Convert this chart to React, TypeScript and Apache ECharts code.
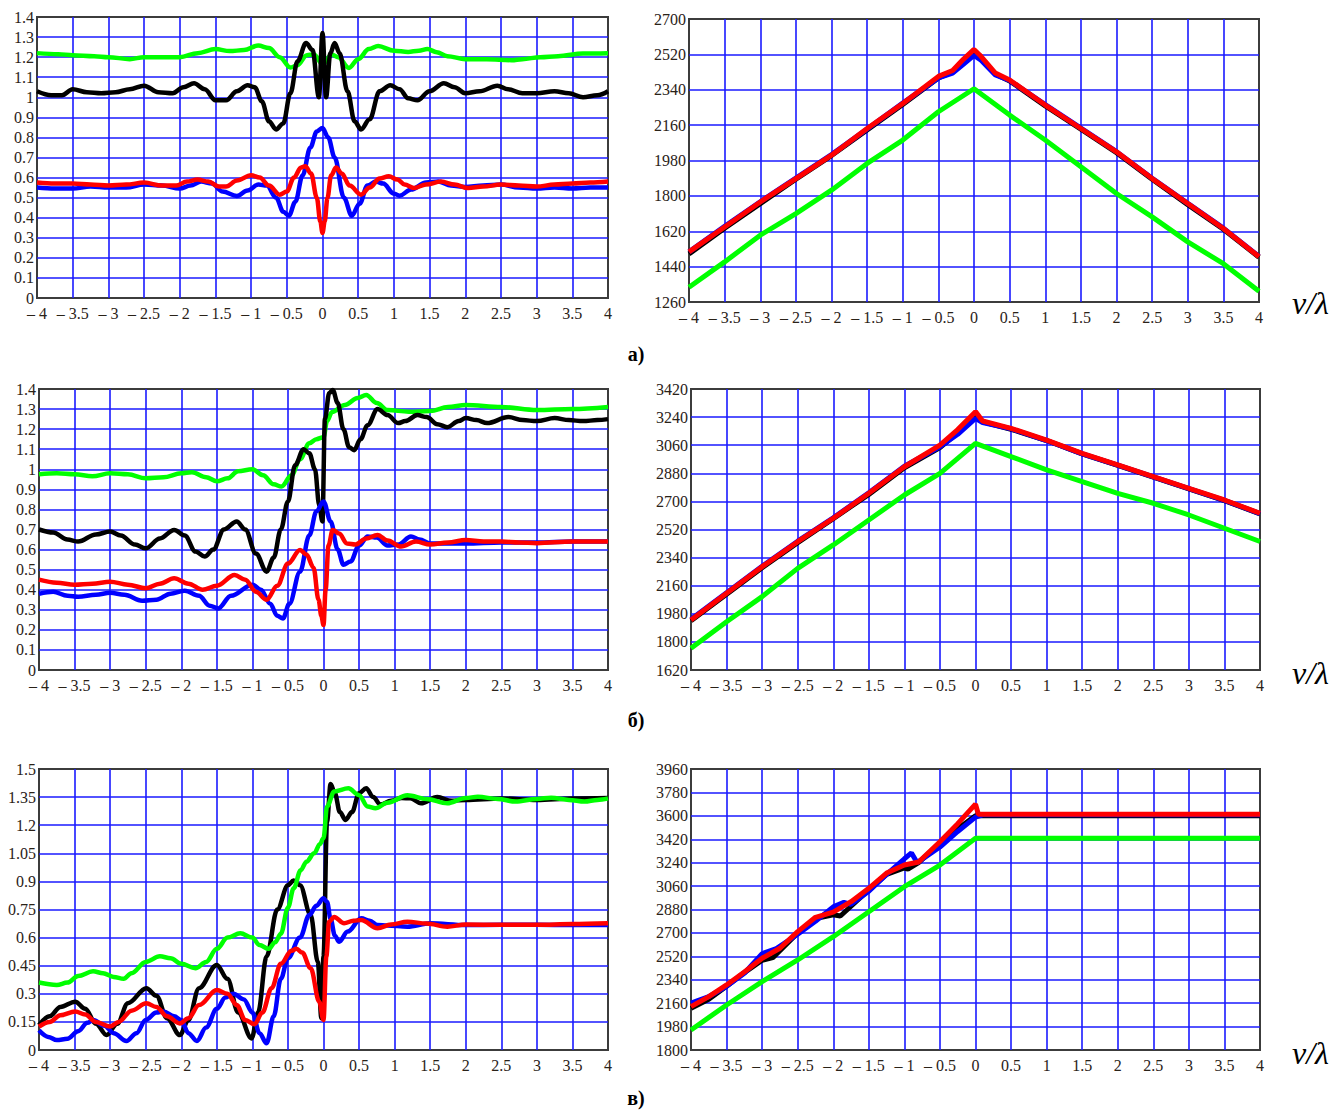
import React, { useEffect, useRef } from 'react';
import * as echarts from 'echarts';

type P = [number, number][];

// ---------- panel а) left ----------
const aLeftGreen: P = [[-4,1.22],[-3.7,1.215],[-3.5,1.21],[-3.2,1.205],[-3,1.2],[-2.7,1.19],[-2.5,1.2],[-2.2,1.2],[-2,1.2],[-1.75,1.22],[-1.5,1.24],[-1.3,1.23],[-1.1,1.235],[-0.9,1.258],[-0.75,1.245],[-0.6,1.2],[-0.45,1.148],[-0.35,1.16],[-0.22,1.21],[-0.12,1.213],[0,1.165],[0.13,1.213],[0.22,1.2],[0.37,1.146],[0.5,1.19],[0.65,1.24],[0.78,1.255],[1.0,1.232],[1.2,1.226],[1.35,1.232],[1.47,1.24],[1.6,1.225],[1.75,1.205],[2,1.19],[2.3,1.19],[2.65,1.185],[2.8,1.19],[3.05,1.2],[3.3,1.205],[3.65,1.218],[4,1.22]];
const aLeftBlack: P = [[-4,1.03],[-3.8,1.01],[-3.65,1.01],[-3.5,1.04],[-3.3,1.025],[-3.1,1.02],[-2.9,1.025],[-2.7,1.04],[-2.5,1.058],[-2.3,1.025],[-2.1,1.02],[-1.95,1.05],[-1.8,1.07],[-1.65,1.04],[-1.5,0.985],[-1.35,0.985],[-1.2,1.03],[-1.05,1.06],[-0.95,1.05],[-0.85,0.98],[-0.75,0.88],[-0.65,0.84],[-0.55,0.87],[-0.45,1.02],[-0.35,1.18],[-0.23,1.27],[-0.14,1.235],[-0.05,1.0],[0,1.32],[0.05,1.0],[0.11,1.22],[0.17,1.27],[0.24,1.22],[0.35,1.03],[0.45,0.88],[0.54,0.84],[0.66,0.89],[0.8,1.03],[0.95,1.06],[1.08,1.04],[1.2,0.995],[1.33,0.985],[1.5,1.03],[1.7,1.07],[1.85,1.05],[2,1.02],[2.2,1.03],[2.45,1.058],[2.6,1.04],[2.8,1.02],[3,1.02],[3.25,1.03],[3.45,1.02],[3.65,1.0],[3.85,1.01],[4,1.03]];
const aLeftBlue: P = [[-4,0.55],[-3.75,0.545],[-3.5,0.545],[-3.25,0.555],[-3,0.55],[-2.75,0.55],[-2.5,0.565],[-2.25,0.56],[-2,0.545],[-1.85,0.56],[-1.7,0.58],[-1.55,0.57],[-1.4,0.53],[-1.2,0.508],[-1.05,0.535],[-0.9,0.565],[-0.78,0.56],[-0.65,0.5],[-0.55,0.43],[-0.47,0.41],[-0.38,0.48],[-0.28,0.61],[-0.17,0.75],[-0.08,0.83],[0,0.847],[0.08,0.8],[0.17,0.7],[0.3,0.5],[0.41,0.41],[0.52,0.47],[0.63,0.56],[0.75,0.58],[0.85,0.57],[1.0,0.52],[1.08,0.51],[1.24,0.54],[1.45,0.575],[1.62,0.58],[1.8,0.56],[2,0.553],[2.25,0.56],[2.5,0.565],[2.75,0.55],[3,0.545],[3.25,0.55],[3.5,0.545],[3.75,0.55],[4,0.55]];
const aLeftRed: P = [[-4,0.575],[-3.75,0.57],[-3.5,0.57],[-3.25,0.565],[-3,0.56],[-2.75,0.565],[-2.5,0.575],[-2.25,0.56],[-2.05,0.56],[-1.9,0.58],[-1.75,0.59],[-1.6,0.58],[-1.45,0.555],[-1.35,0.555],[-1.2,0.585],[-1.0,0.612],[-0.88,0.6],[-0.75,0.56],[-0.6,0.515],[-0.5,0.53],[-0.4,0.6],[-0.3,0.65],[-0.24,0.656],[-0.16,0.62],[-0.08,0.5],[-0.03,0.38],[0,0.324],[0.03,0.38],[0.07,0.5],[0.12,0.61],[0.19,0.65],[0.27,0.62],[0.38,0.56],[0.54,0.515],[0.66,0.55],[0.8,0.595],[0.93,0.606],[1.05,0.59],[1.15,0.565],[1.28,0.548],[1.45,0.565],[1.66,0.58],[1.85,0.565],[2.04,0.548],[2.25,0.555],[2.5,0.565],[2.75,0.56],[3,0.555],[3.25,0.565],[3.5,0.57],[3.75,0.575],[4,0.58]];

// ---------- panel а) right ----------
const aRightBlack: P = [[-4,1505],[-3.5,1635],[-3,1760],[-2.5,1885],[-2,2005],[-1.5,2135],[-1,2265],[-0.5,2400],[-0.3,2430],[-0.15,2480],[0,2520],[0.1,2495],[0.3,2420],[0.5,2385],[1,2258],[1.5,2140],[2,2020],[2.5,1885],[3,1755],[3.5,1630],[4,1488]];
const aRightGreen: P = [[-4,1335],[-3.5,1464],[-3,1600],[-2.5,1710],[-2,1829],[-1.5,1965],[-1,2084],[-0.5,2228],[0,2345],[0.5,2211],[1,2084],[1.5,1948],[2,1812],[2.5,1693],[3,1566],[3.5,1455],[4,1315]];
const aRightBlue: P = [[-4,1515],[-3.5,1645],[-3,1770],[-2.5,1890],[-2,2010],[-1.5,2140],[-1,2272],[-0.5,2400],[-0.3,2425],[-0.15,2470],[0,2515],[0.1,2490],[0.3,2415],[0.5,2387],[1,2265],[1.5,2145],[2,2025],[2.5,1890],[3,1762],[3.5,1636],[4,1492]];
const aRightRed: P = [[-4,1515],[-3.5,1642],[-3,1769],[-2.5,1888],[-2,2007],[-1.5,2143],[-1,2270],[-0.5,2408],[-0.3,2438],[-0.15,2495],[0,2545],[0.08,2517],[0.3,2425],[0.5,2390],[1,2262],[1.5,2143],[2,2024],[2.5,1888],[3,1761],[3.5,1634],[4,1490]];

// ---------- panel б) left ----------
const bLeftGreen: P = [[-4,0.975],[-3.75,0.98],[-3.5,0.975],[-3.25,0.965],[-3,0.98],[-2.75,0.975],[-2.5,0.955],[-2.25,0.96],[-2,0.98],[-1.85,0.985],[-1.65,0.96],[-1.5,0.94],[-1.35,0.955],[-1.2,0.99],[-1.0,1.0],[-0.85,0.97],[-0.7,0.925],[-0.59,0.914],[-0.45,0.97],[-0.33,1.05],[-0.2,1.13],[-0.1,1.15],[0,1.16],[0.05,1.24],[0.12,1.285],[0.3,1.32],[0.48,1.355],[0.6,1.37],[0.75,1.33],[0.9,1.295],[1.2,1.287],[1.5,1.29],[1.75,1.31],[2,1.32],[2.5,1.31],[3,1.295],[3.5,1.3],[4,1.31]];
const bLeftBlack: P = [[-4,0.7],[-3.8,0.685],[-3.6,0.65],[-3.45,0.64],[-3.2,0.675],[-3.0,0.69],[-2.85,0.67],[-2.65,0.625],[-2.5,0.606],[-2.3,0.655],[-2.1,0.698],[-1.95,0.67],[-1.8,0.59],[-1.67,0.565],[-1.55,0.6],[-1.4,0.7],[-1.22,0.74],[-1.1,0.7],[-0.95,0.58],[-0.8,0.49],[-0.7,0.56],[-0.6,0.7],[-0.5,0.84],[-0.4,1.02],[-0.28,1.1],[-0.2,1.08],[-0.12,1.0],[-0.06,0.82],[-0.015,0.74],[0.02,1.25],[0.08,1.38],[0.13,1.395],[0.2,1.33],[0.28,1.2],[0.36,1.11],[0.43,1.095],[0.52,1.15],[0.62,1.22],[0.76,1.3],[0.9,1.27],[1.05,1.23],[1.15,1.24],[1.32,1.27],[1.45,1.26],[1.6,1.225],[1.74,1.21],[1.9,1.24],[2.0,1.255],[2.15,1.245],[2.3,1.23],[2.6,1.26],[2.8,1.245],[3.0,1.24],[3.25,1.255],[3.45,1.245],[3.65,1.24],[3.85,1.245],[4,1.25]];
const bLeftBlue: P = [[-4,0.38],[-3.8,0.39],[-3.6,0.37],[-3.45,0.365],[-3.2,0.375],[-3,0.385],[-2.8,0.375],[-2.55,0.345],[-2.35,0.35],[-2.15,0.38],[-1.95,0.395],[-1.75,0.37],[-1.6,0.32],[-1.48,0.307],[-1.3,0.37],[-1.0,0.425],[-0.88,0.4],[-0.75,0.33],[-0.65,0.27],[-0.57,0.257],[-0.48,0.33],[-0.33,0.49],[-0.2,0.67],[-0.1,0.79],[0,0.84],[0.1,0.74],[0.2,0.6],[0.28,0.525],[0.38,0.54],[0.5,0.62],[0.62,0.665],[0.75,0.66],[0.9,0.62],[1.05,0.625],[1.23,0.665],[1.35,0.65],[1.5,0.63],[2,0.63],[2.5,0.635],[3,0.635],[3.5,0.64],[4,0.64]];
const bLeftRed: P = [[-4,0.45],[-3.75,0.435],[-3.5,0.425],[-3.25,0.43],[-3,0.44],[-2.75,0.425],[-2.5,0.407],[-2.3,0.43],[-2.1,0.457],[-1.9,0.43],[-1.7,0.4],[-1.5,0.42],[-1.25,0.473],[-1.1,0.45],[-0.95,0.39],[-0.8,0.35],[-0.65,0.42],[-0.5,0.53],[-0.33,0.598],[-0.24,0.575],[-0.14,0.51],[-0.07,0.35],[-0.03,0.27],[0,0.224],[0.03,0.4],[0.07,0.62],[0.13,0.698],[0.22,0.68],[0.33,0.63],[0.45,0.625],[0.6,0.655],[0.76,0.673],[0.9,0.645],[1.09,0.615],[1.3,0.64],[1.5,0.625],[1.75,0.635],[2.0,0.648],[2.25,0.64],[2.5,0.64],[2.75,0.635],[3,0.632],[3.5,0.64],[4,0.64]];

// ---------- panel б) right ----------
const bRightBlack: P = [[-4,1935],[-3.5,2105],[-3,2275],[-2.5,2435],[-2,2590],[-1.5,2745],[-1,2915],[-0.5,3045],[-0.25,3140],[0,3240],[0.1,3210],[0.5,3162],[1,3090],[1.5,3005],[2,2930],[2.5,2855],[3,2780],[3.5,2705],[4,2620]];
const bRightGreen: P = [[-4,1759],[-3.5,1929],[-3,2090],[-2.5,2271],[-2,2421],[-1.5,2581],[-1,2741],[-0.5,2880],[-0.25,2976],[0,3072],[0.5,2987],[1,2902],[1.5,2827],[2,2752],[2.5,2688],[3,2613],[3.5,2528],[4,2443]];
const bRightBlue: P = [[-4,1945],[-3.5,2115],[-3,2285],[-2.5,2445],[-2,2595],[-1.5,2755],[-1,2925],[-0.5,3050],[-0.25,3130],[0,3232],[0.1,3205],[0.5,3165],[1,3090],[1.5,3005],[2,2932],[2.5,2857],[3,2782],[3.5,2707],[4,2622]];
const bRightRed: P = [[-4,1940],[-3.5,2111],[-3,2282],[-2.5,2442],[-2,2592],[-1.5,2752],[-1,2922],[-0.5,3061],[-0.25,3160],[0,3275],[0.1,3215],[0.5,3168],[1,3093],[1.5,3008],[2,2934],[2.5,2859],[3,2784],[3.5,2709],[4,2624]];

// ---------- panel в) left ----------
const cLeftGreen: P = [[-4,0.36],[-3.75,0.347],[-3.6,0.36],[-3.45,0.395],[-3.24,0.42],[-3.1,0.41],[-2.95,0.39],[-2.81,0.38],[-2.7,0.41],[-2.5,0.47],[-2.3,0.5],[-2.15,0.49],[-2,0.46],[-1.8,0.436],[-1.65,0.47],[-1.5,0.54],[-1.35,0.6],[-1.17,0.623],[-1.0,0.6],[-0.9,0.56],[-0.77,0.54],[-0.68,0.575],[-0.6,0.62],[-0.5,0.76],[-0.42,0.863],[-0.32,0.96],[-0.24,1.005],[-0.13,1.05],[-0.05,1.1],[0,1.13],[0.05,1.3],[0.15,1.38],[0.35,1.397],[0.5,1.36],[0.62,1.3],[0.73,1.29],[0.9,1.32],[1.18,1.36],[1.45,1.34],[1.74,1.317],[2.0,1.345],[2.17,1.352],[2.45,1.34],[2.7,1.326],[3.0,1.34],[3.2,1.347],[3.45,1.335],[3.67,1.326],[3.85,1.335],[4,1.343]];
const cLeftBlack: P = [[-4,0.133],[-3.85,0.18],[-3.7,0.23],[-3.49,0.258],[-3.35,0.22],[-3.2,0.14],[-3.05,0.08],[-2.9,0.14],[-2.75,0.25],[-2.49,0.33],[-2.35,0.29],[-2.2,0.17],[-2.02,0.08],[-1.9,0.16],[-1.75,0.33],[-1.5,0.454],[-1.35,0.38],[-1.2,0.2],[-1.01,0.062],[-0.92,0.2],[-0.8,0.5],[-0.65,0.75],[-0.5,0.88],[-0.42,0.905],[-0.33,0.88],[-0.18,0.72],[-0.08,0.47],[-0.03,0.17],[0,0.5],[0.05,1.22],[0.1,1.42],[0.16,1.37],[0.23,1.27],[0.31,1.228],[0.4,1.27],[0.5,1.37],[0.6,1.397],[0.7,1.35],[0.8,1.31],[0.95,1.33],[1.1,1.345],[1.22,1.344],[1.37,1.317],[1.6,1.35],[1.8,1.33],[2.0,1.335],[2.5,1.343],[3,1.335],[3.5,1.343],[4,1.345]];
const cLeftBlue: P = [[-4,0.105],[-3.87,0.07],[-3.75,0.053],[-3.6,0.06],[-3.45,0.1],[-3.32,0.145],[-3.24,0.16],[-3.08,0.13],[-2.95,0.09],[-2.77,0.048],[-2.63,0.09],[-2.5,0.16],[-2.35,0.2],[-2.25,0.205],[-2.1,0.18],[-2.0,0.16],[-1.9,0.09],[-1.78,0.048],[-1.65,0.12],[-1.5,0.22],[-1.38,0.28],[-1.27,0.3],[-1.12,0.27],[-1.0,0.2],[-0.9,0.09],[-0.8,0.036],[-0.7,0.18],[-0.6,0.38],[-0.5,0.49],[-0.33,0.6],[-0.2,0.72],[-0.1,0.77],[0,0.81],[0.05,0.79],[0.1,0.7],[0.16,0.61],[0.22,0.578],[0.34,0.632],[0.53,0.703],[0.65,0.69],[0.76,0.667],[0.9,0.665],[1.18,0.658],[1.5,0.676],[2,0.667],[2.5,0.668],[3,0.668],[3.5,0.667],[4,0.667]];
const cLeftRed: P = [[-4,0.125],[-3.85,0.15],[-3.7,0.185],[-3.49,0.205],[-3.35,0.19],[-3.2,0.15],[-3.0,0.125],[-2.88,0.15],[-2.7,0.21],[-2.49,0.249],[-2.35,0.23],[-2.2,0.18],[-2.02,0.142],[-1.9,0.17],[-1.75,0.24],[-1.5,0.32],[-1.35,0.3],[-1.22,0.24],[-1.1,0.16],[-0.97,0.137],[-0.86,0.2],[-0.73,0.33],[-0.6,0.46],[-0.45,0.53],[-0.38,0.54],[-0.3,0.52],[-0.18,0.436],[-0.06,0.258],[0,0.16],[0.04,0.5],[0.08,0.685],[0.15,0.71],[0.29,0.676],[0.42,0.69],[0.53,0.694],[0.76,0.65],[0.95,0.67],[1.18,0.685],[1.45,0.675],[1.74,0.658],[2,0.67],[2.5,0.668],[3,0.668],[3.5,0.672],[4,0.676]];

// ---------- panel в) right ----------
const cRightBlack: P = [[-4,2120],[-3.75,2190],[-3.5,2290],[-3.25,2395],[-3,2490],[-2.85,2510],[-2.5,2700],[-2.25,2810],[-2,2840],[-1.9,2830],[-1.5,3030],[-1.25,3150],[-1,3200],[-0.95,3190],[-0.8,3240],[-0.5,3390],[-0.25,3500],[0,3600],[4,3600]];
const cRightGreen: P = [[-4,1954],[-3.5,2146],[-3,2325],[-2.5,2492],[-2,2671],[-1.5,2863],[-1,3055],[-0.5,3222],[0,3427],[4,3427]];
const cRightBlue: P = [[-4,2160],[-3.75,2210],[-3.5,2290],[-3.25,2390],[-3,2540],[-2.8,2580],[-2.5,2690],[-2.25,2790],[-2,2900],[-1.85,2935],[-1.75,2920],[-1.5,3020],[-1.25,3150],[-1,3270],[-0.9,3315],[-0.82,3240],[-0.5,3360],[-0.25,3480],[0,3590],[0.1,3608],[4,3608]];
const cRightRed: P = [[-4,2133],[-3.75,2210],[-3.5,2300],[-3.25,2400],[-3,2505],[-2.75,2582],[-2.5,2710],[-2.25,2820],[-2,2860],[-1.75,2940],[-1.5,3043],[-1.25,3160],[-1,3222],[-0.8,3245],[-0.5,3401],[-0.25,3540],[0,3690],[0.04,3612],[4,3612]];

// ---------- axes ----------
const X_MIN = -4, X_MAX = 4, X_STEP = 0.5;
const leftY = [
  { min: 0, max: 1.4, interval: 0.1 },
  { min: 0, max: 1.4, interval: 0.1 },
  { min: 0, max: 1.5, interval: 0.15 },
];
const rightY = [
  { min: 1260, max: 2700, interval: 180 },
  { min: 1620, max: 3420, interval: 180 },
  { min: 1800, max: 3960, interval: 180 },
];
const rowLabels = ['а)', 'б)', 'в)'];
const axisTitle = 'ν/λ';

const COL = { black: '#000000', green: '#00ff00', blue: '#0000ff', red: '#ff0000' };

const fmtX = (v: number) => {
  const r = Math.round(v * 100) / 100;
  return r < 0 ? '\u2013 ' + String(-r) : String(r);
};
const fmtY = (v: number) => String(Math.round(v * 1000) / 1000);

export default function App() {
  const ref = useRef<HTMLDivElement>(null);
  useEffect(() => {
    if (!ref.current) return;
    const chart = echarts.init(ref.current, undefined, { renderer: 'svg' });

    const grids = [
      { left: 37, top: 17, width: 571, height: 281 },
      { left: 689, top: 19, width: 570, height: 283 },
      { left: 39, top: 389, width: 569, height: 281 },
      { left: 691, top: 389, width: 569, height: 281 },
      { left: 39, top: 769, width: 569, height: 281 },
      { left: 691, top: 769, width: 569, height: 281 },
    ];
    const yCfg = [leftY[0], rightY[0], leftY[1], rightY[1], leftY[2], rightY[2]];
    const seriesSets: [keyof typeof COL, P][][] = [
      [['green', aLeftGreen], ['black', aLeftBlack], ['blue', aLeftBlue], ['red', aLeftRed]],
      [['black', aRightBlack], ['green', aRightGreen], ['blue', aRightBlue], ['red', aRightRed]],
      [['green', bLeftGreen], ['black', bLeftBlack], ['blue', bLeftBlue], ['red', bLeftRed]],
      [['black', bRightBlack], ['green', bRightGreen], ['blue', bRightBlue], ['red', bRightRed]],
      [['black', cLeftBlack], ['green', cLeftGreen], ['blue', cLeftBlue], ['red', cLeftRed]],
      [['black', cRightBlack], ['green', cRightGreen], ['blue', cRightBlue], ['red', cRightRed]],
    ];

    const FONT = 'Liberation Serif';
    const labelFont = { color: '#2a2218', fontFamily: FONT, fontSize: 16, lineHeight: 14 };
    const splitLine = { show: true, showMinLine: false, showMaxLine: false, lineStyle: { color: '#1a1aff', width: 1.6 } };

    const series: any[] = [];
    seriesSets.forEach((set, i) => {
      const isLeft = i % 2 === 0;
      set.forEach(([c, d]) => {
        series.push({
          type: 'line',
          xAxisIndex: i,
          yAxisIndex: i,
          data: d,
          showSymbol: false,
          symbol: 'none',
          smooth: isLeft ? 0.35 : false,
          smoothMonotone: isLeft ? 'x' : undefined,
          clip: true,
          lineStyle: { color: COL[c], width: isLeft ? 4.5 : 5 },
          emphasis: { disabled: true },
        });
      });
    });

    const graphic: any[] = [];
    [303, 673, 1053].forEach((y) => {
      graphic.push({
        type: 'text', x: 1292, y,
        style: { text: axisTitle, fill: '#000', fontSize: 32, fontStyle: 'italic', fontFamily: FONT, verticalAlign: 'middle' },
      });
    });
    [354, 720, 1098].forEach((y, k) => {
      graphic.push({
        type: 'text', x: 636, y,
        style: { text: rowLabels[k], fill: '#000', fontSize: 20, fontWeight: 'bold', fontFamily: FONT, align: 'center', verticalAlign: 'middle' },
      });
    });

    chart.setOption({
      animation: false,
      backgroundColor: '#ffffff',
      grid: grids.map((g) => ({ ...g, show: true, borderColor: '#3c3c3c', borderWidth: 2, backgroundColor: '#ffffff', containLabel: false, outerBoundsMode: 'none' })),
      xAxis: grids.map((_, i) => ({
        gridIndex: i, type: 'value', min: X_MIN, max: X_MAX, interval: X_STEP,
        axisLine: { show: false }, axisTick: { show: false },
        splitLine,
        axisLabel: { ...labelFont, margin: 8, formatter: fmtX, showMinLabel: true, showMaxLabel: true },
      })),
      yAxis: yCfg.map((y, i) => ({
        gridIndex: i, type: 'value', min: y.min, max: y.max, interval: y.interval,
        axisLine: { show: false }, axisTick: { show: false },
        splitLine,
        axisLabel: { ...labelFont, margin: 3, formatter: fmtY, showMinLabel: true, showMaxLabel: true },
      })),
      series,
      graphic,
    });
    return () => chart.dispose();
  }, []);
  return <div ref={ref} style={{ position: 'absolute', left: 0, top: 0, width: 1343, height: 1110, background: '#fff' }} />;
}
